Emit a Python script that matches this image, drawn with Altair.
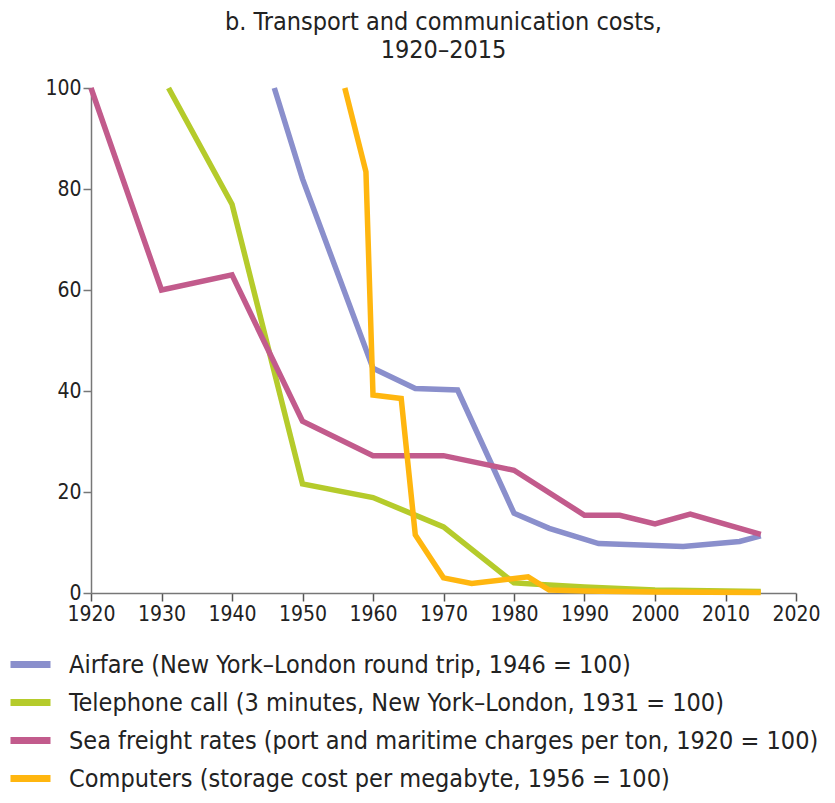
import altair as alt
import pandas as pd

series_names = [
    "Airfare (New York–London round trip, 1946 = 100)",
    "Telephone call (3 minutes, New York–London, 1931 = 100)",
    "Sea freight rates (port and maritime charges per ton, 1920 = 100)",
    "Computers (storage cost per megabyte, 1956 = 100)",
]
colors = ["#8a8fcc", "#b5cb2b", "#c25b8c", "#ffb60f"]

airfare_years = [1946, 1950, 1960, 1966, 1972, 1980, 1985, 1992, 2000, 2004, 2012, 2015]
airfare_vals = [100, 82, 44.5, 40.5, 40.2, 15.8, 12.8, 9.8, 9.4, 9.2, 10.2, 11.3]

phone_years = [1931, 1940, 1950, 1960, 1970, 1980, 1985, 1990, 2000, 2015]
phone_vals = [100, 77, 21.6, 18.9, 13.1, 2.0, 1.6, 1.2, 0.6, 0.3]

sea_years = [1920, 1930, 1940, 1950, 1960, 1970, 1980, 1990, 1995, 2000, 2005, 2015]
sea_vals = [100, 60, 63, 34, 27.2, 27.2, 24.3, 15.4, 15.4, 13.7, 15.6, 11.6]

comp_years = [1956, 1959, 1960, 1964, 1966, 1970, 1974, 1982, 1985, 1990, 2000, 2015]
comp_vals = [100, 83.4, 39.2, 38.5, 11.5, 3.0, 1.9, 3.2, 0.6, 0.4, 0.2, 0.1]

x_ticks = list(range(1920, 2021, 10))
y_ticks = [0, 20, 40, 60, 80, 100]

rows = []
for name, yrs, vals in zip(series_names,
                           [airfare_years, phone_years, sea_years, comp_years],
                           [airfare_vals, phone_vals, sea_vals, comp_vals]):
    for yr, v in zip(yrs, vals):
        rows.append({"series": name, "year": yr, "value": v})
df = pd.DataFrame(rows)

FONT = "Liberation Sans Narrow, DejaVu Sans Condensed, sans-serif"

chart = alt.Chart(df).mark_line(strokeWidth=5.5, strokeJoin="miter").encode(
    x=alt.X("year:Q", scale=alt.Scale(domain=[1920, 2020], nice=False, zero=False),
            axis=alt.Axis(values=x_ticks, format="d", title=None, grid=False,
                          tickSize=8, labelPadding=2, labelFontSize=21,
                          labelFont=FONT, labelColor="#222", domainColor="#777",
                          tickColor="#555", domainWidth=1.5, tickWidth=1.5,
                          labelFlush=False)),
    y=alt.Y("value:Q", scale=alt.Scale(domain=[0, 100], nice=False),
            axis=alt.Axis(values=y_ticks, title=None, grid=False,
                          tickSize=8, labelPadding=2, labelFontSize=21,
                          labelFont=FONT, labelColor="#222", domainColor="#777",
                          tickColor="#777", domainWidth=1.5, tickWidth=1.5)),
    color=alt.Color("series:N",
                    scale=alt.Scale(domain=series_names, range=colors),
                    sort=series_names,
                    legend=alt.Legend(orient="none", legendX=-84, legendY=553,
                                      direction="vertical", title=None,
                                      symbolType="stroke", symbolStrokeWidth=7,
                                      symbolSize=1600, labelFontSize=25,
                                      labelFont=FONT, labelColor="#222",
                                      rowPadding=-0.5, labelOffset=15,
                                      labelLimit=900)),
    detail="series:N",
).properties(
    width=705,
    height=505,
    title=alt.TitleParams(
        ["b. Transport and communication costs,", "1920–2015"],
        anchor="middle", fontSize=25, font=FONT, fontWeight="normal",
        color="#222", lineHeight=28, offset=14),
    padding={"left": 83, "top": 80, "right": 30, "bottom": 202},
    autosize="none",
).configure_view(stroke=None)

chart.save("out.html", embed_options={"renderer": "svg", "actions": False})
